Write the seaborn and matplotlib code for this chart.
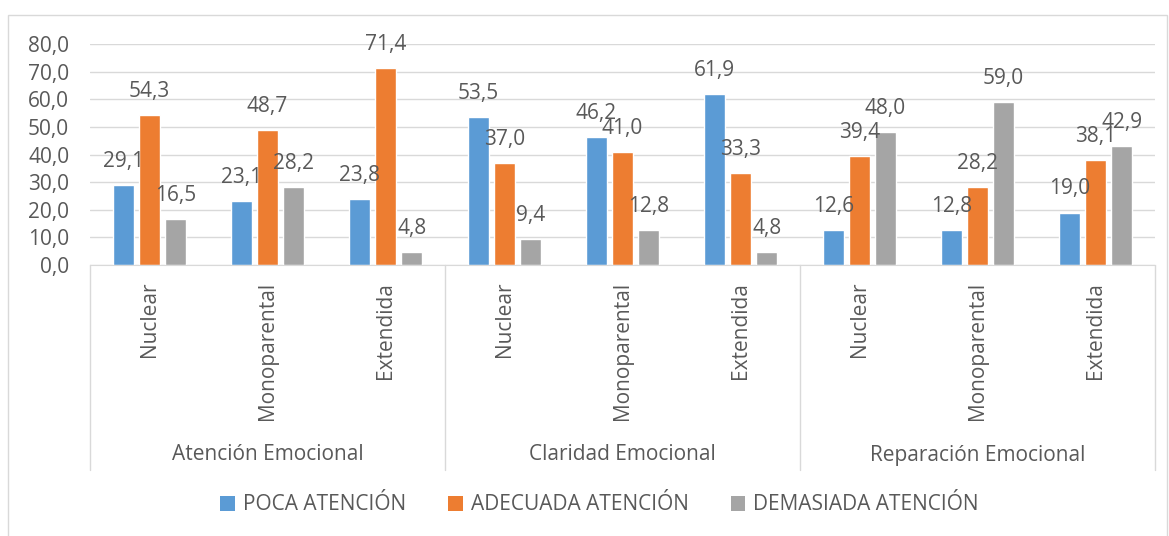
import matplotlib.pyplot as plt
import pandas as pd
import seaborn as sns
from matplotlib.patches import Patch, Rectangle
from matplotlib.transforms import blended_transform_factory


# chart data
dimensions = ["Atención Emocional", "Claridad Emocional", "Reparación Emocional"]
family_types = ["Nuclear", "Monoparental", "Extendida"]
series_names = ["POCA ATENCIÓN", "ADECUADA ATENCIÓN", "DEMASIADA ATENCIÓN"]
poca = [29.1, 23.1, 23.8, 53.5, 46.2, 61.9, 12.6, 12.8, 19.0]
adecuada = [54.3, 48.7, 71.4, 37.0, 41.0, 33.3, 39.4, 28.2, 38.1]
demasiada = [16.5, 28.2, 4.8, 9.4, 12.8, 4.8, 48.0, 59.0, 42.9]
y_ticks = [0, 10, 20, 30, 40, 50, 60, 70, 80]

COLORS = ["#5B9BD5", "#ED7D31", "#A5A5A5"]
TEXT = "#595959"
GRID = "#D9D9D9"
FS = 15


def build_frame():
    cats = [f"{d}|{f}" for d in dimensions for f in family_types]
    rows = []
    for name, values in zip(series_names, [poca, adecuada, demasiada]):
        for cat, v in zip(cats, values):
            rows.append({"cat": cat, "serie": name, "valor": v})
    return pd.DataFrame(rows), cats


def main():
    df, cats = build_frame()
    sns.set_style("white")
    plt.rcParams["font.family"] = ["Open Sans", "DejaVu Sans"]

    fig = plt.figure(figsize=(11.69, 5.36), dpi=100)
    ax = fig.add_axes([90 / 1169, 1 - 265 / 536, (1155 - 90) / 1169, (265 - 44) / 536])

    sns.barplot(data=df, x="cat", y="valor", hue="serie", order=cats, hue_order=series_names,
                palette=COLORS, width=0.66, gap=0.2, legend=False, ax=ax, saturation=1)

    ax.set_ylim(0, 80)
    ax.set_xlim(-0.5, len(cats) - 0.5)
    ax.set_yticks(y_ticks)
    ax.set_yticklabels([f"{t:.1f}".replace(".", ",") for t in y_ticks], fontsize=FS, color=TEXT)
    ax.set_xticks(range(len(cats)))
    ax.set_xticklabels([c.split("|")[1] for c in cats], rotation=90, fontsize=FS, color=TEXT)
    ax.tick_params(axis="y", length=0, pad=15)
    ax.tick_params(axis="x", length=0, pad=12)
    ax.set_xlabel("")
    ax.set_ylabel("")
    ax.yaxis.grid(True, color=GRID, linewidth=1)
    ax.set_axisbelow(True)
    for side in ["top", "right", "left"]:
        ax.spines[side].set_visible(False)
    ax.spines["bottom"].set_color(GRID)

    for patch in ax.patches:
        h = patch.get_height()
        if h > 0:
            ax.annotate(f"{h:.1f}".replace(".", ","), (patch.get_x() + patch.get_width() / 2, h),
                        xytext=(0, 17), textcoords="offset points", ha="center", va="center",
                        fontsize=FS, color=TEXT)

    # multi-level category axis
    trans = blended_transform_factory(ax.transData, ax.transAxes)
    bottom = -(470 - 265) / (265 - 44)
    for x in [-0.5, 2.5, 5.5, 8.5]:
        ax.plot([x, x], [0, bottom], transform=trans, color=GRID, linewidth=1, clip_on=False)
    for i, d in enumerate(dimensions):
        ax.text(i * 3 + 1, -(455 - 265) / (265 - 44), d, transform=trans, ha="center", va="center",
                fontsize=FS, color=TEXT)

    handles = [Patch(facecolor=c, edgecolor="none") for c in COLORS]
    fig.legend(handles, series_names, loc="center", bbox_to_anchor=(0.513, 1 - 505 / 536), ncol=3,
               frameon=False, fontsize=FS, labelcolor=TEXT, handlelength=0.7, handleheight=0.7,
               handletextpad=0.4, columnspacing=2.0)

    fig.patches.append(Rectangle((8 / 1169, -0.01), (1167 - 8) / 1169, 1 - 15 / 536 + 0.01,
                                 transform=fig.transFigure, fill=False, edgecolor=GRID, linewidth=1))

    fig.savefig("out.png", dpi=100)
    plt.close(fig)


if __name__ == "__main__":
    main()
